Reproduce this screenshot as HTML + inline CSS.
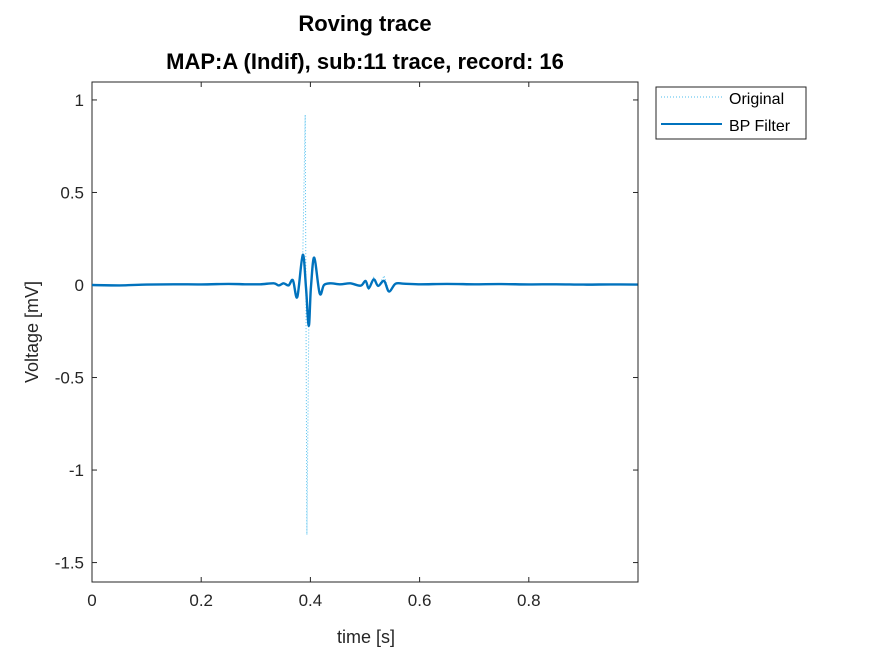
<!DOCTYPE html>
<html><head><meta charset="utf-8"><style>
body{margin:0;background:#fff;}
svg text{font-family:"Liberation Sans",sans-serif;}
</style></head><body>
<svg id="chart" width="875" height="656" xmlns="http://www.w3.org/2000/svg">
<rect width="875" height="656" fill="#fff"/>
<text x="365" y="31" font-size="22" font-weight="bold" text-anchor="middle" fill="#000">Roving trace</text>
<text x="365" y="69" font-size="22" font-weight="bold" text-anchor="middle" fill="#000">MAP:A (Indif), sub:11 trace, record: 16</text>
<rect x="92" y="82" width="546" height="500" fill="#fff" stroke="#262626" stroke-width="1"/>
<g id="axes"></g>
<g id="series"></g>
<text x="366" y="643" font-size="18" text-anchor="middle" fill="#262626">time [s]</text>
<text transform="translate(38,332) rotate(-90)" font-size="18" text-anchor="middle" fill="#262626">Voltage [mV]</text>
<g>
<rect x="656" y="87" width="150" height="52" fill="#fff" stroke="#262626" stroke-width="1"/>
<line x1="661" y1="97" x2="722" y2="97" stroke="#4DBEEE" stroke-width="1" stroke-dasharray="1,2"/>
<text x="729" y="104" font-size="16" fill="#000">Original</text>
<line x1="661" y1="124" x2="722" y2="124" stroke="#0072BD" stroke-width="2"/>
<text x="729" y="131" font-size="16" fill="#000">BP Filter</text>
</g>
</svg>
<script>
const xTicks=[0,0.2,0.4,0.6,0.8];
const xTickLabels=["0","0.2","0.4","0.6","0.8"];
const yTicks=[1,0.5,0,-0.5,-1,-1.5];
const yTickLabels=["1","0.5","0","-0.5","-1","-1.5"];
const filtTime=[0,0.05,0.1,0.15,0.2,0.25,0.28,0.308,0.333,0.342,0.351,0.36,0.368,0.376,0.386,0.392,0.397,0.401,0.407,0.417,0.425,0.437,0.455,0.473,0.492,0.501,0.507,0.516,0.524,0.535,0.544,0.556,0.571,0.602,0.65,0.7,0.75,0.8,0.85,0.9,0.95,0.999];
const filtValues=[0,-0.002,0.002,0.004,0.003,0.006,0.004,0.004,0.009,-0.002,0.009,-0.002,0.026,-0.065,0.163,-0.014,-0.221,-0.014,0.148,-0.046,0,0.009,0.004,0.009,-0.004,0.022,-0.017,0.031,-0.005,0.022,-0.035,0.007,0.007,0.004,0.006,0.004,0.005,0.003,0.004,0.002,0.003,0.002];
const origTime=[0,0.05,0.1,0.15,0.2,0.25,0.28,0.308,0.333,0.342,0.351,0.36,0.368,0.376,0.386,0.3905,0.3935,0.397,0.401,0.407,0.417,0.425,0.437,0.455,0.473,0.492,0.501,0.507,0.516,0.524,0.535,0.544,0.556,0.571,0.602,0.65,0.7,0.75,0.8,0.85,0.9,0.95,0.999];
const origValues=[0,-0.002,0.002,0.004,0.003,0.006,0.004,0.004,0.009,-0.002,0.009,-0.002,0.026,-0.065,0.163,0.92,-1.35,-0.221,-0.014,0.148,-0.046,0,0.009,0.004,0.009,-0.004,0.03,-0.03,0.04,-0.01,0.05,-0.035,0.007,0.007,0.004,0.006,0.004,0.005,0.003,0.004,0.002,0.003,0.002];
const X0=92,X1=638,Y0=582,Y1=82,xMin=0,xMax=1.0,yMin=-1.605,yMax=1.097;
function xs(t){return X0+(t-xMin)/(xMax-xMin)*(X1-X0);}
function ys(v){return Y0-(v-yMin)/(yMax-yMin)*(Y0-Y1);}
const NS="http://www.w3.org/2000/svg";
const axes=document.getElementById('axes');
xTicks.forEach((t,i)=>{
  const x=xs(t);
  const l1=document.createElementNS(NS,'line');
  l1.setAttribute('x1',x);l1.setAttribute('x2',x);l1.setAttribute('y1',Y0);l1.setAttribute('y2',Y0-5);l1.setAttribute('stroke','#262626');
  
  
  axes.appendChild(l1);
  const l2=document.createElementNS(NS,'line');
  l2.setAttribute('x1',x);l2.setAttribute('x2',x);l2.setAttribute('y1',Y1);l2.setAttribute('y2',Y1+5);l2.setAttribute('stroke','#262626');
  
  
  axes.appendChild(l2);
  const tx=document.createElementNS(NS,'text');
  tx.setAttribute('x',x);tx.setAttribute('y',Y0+24);tx.setAttribute('font-size','17');tx.setAttribute('text-anchor','middle');tx.setAttribute('fill','#262626');
  tx.textContent=xTickLabels[i];
  
  
  axes.appendChild(tx);
});
yTicks.forEach((v,i)=>{
  const y=ys(v);
  const l1=document.createElementNS(NS,'line');
  l1.setAttribute('x1',X0);l1.setAttribute('x2',X0+5);l1.setAttribute('y1',y);l1.setAttribute('y2',y);l1.setAttribute('stroke','#262626');
  
  
  axes.appendChild(l1);
  const l2=document.createElementNS(NS,'line');
  l2.setAttribute('x1',X1);l2.setAttribute('x2',X1-5);l2.setAttribute('y1',y);l2.setAttribute('y2',y);l2.setAttribute('stroke','#262626');
  
  
  axes.appendChild(l2);
  const tx=document.createElementNS(NS,'text');
  tx.setAttribute('x',X0-8);tx.setAttribute('y',y+6);tx.setAttribute('font-size','17');tx.setAttribute('text-anchor','end');tx.setAttribute('fill','#262626');
  tx.textContent=yTickLabels[i];
  
  
  axes.appendChild(tx);
});
const series=document.getElementById('series');
function pts(ts,vs){return ts.map((t,i)=>xs(t).toFixed(1)+','+ys(vs[i]).toFixed(1)).join(' ');}
function smoothPath(ts,vs){
  const P=ts.map((t,i)=>[xs(t),ys(vs[i])]);
  let d='M'+P[0][0].toFixed(1)+','+P[0][1].toFixed(1);
  for(let i=0;i<P.length-1;i++){
    const p0=P[i-1]||P[i],p1=P[i],p2=P[i+1],p3=P[i+2]||P[i+1];
    const c1=[p1[0]+(p2[0]-p0[0])/6,p1[1]+(p2[1]-p0[1])/6];
    const c2=[p2[0]-(p3[0]-p1[0])/6,p2[1]-(p3[1]-p1[1])/6];
    d+=' C'+c1[0].toFixed(1)+','+c1[1].toFixed(1)+' '+c2[0].toFixed(1)+','+c2[1].toFixed(1)+' '+p2[0].toFixed(1)+','+p2[1].toFixed(1);
  }
  return d;
}
const po=document.createElementNS(NS,'polyline');
po.setAttribute('points',pts(origTime,origValues));
po.setAttribute('fill','none');po.setAttribute('stroke','#4DBEEE');po.setAttribute('stroke-width','1');po.setAttribute('stroke-dasharray','1,2');


series.appendChild(po);
const pf=document.createElementNS(NS,'path');
pf.setAttribute('d',smoothPath(filtTime,filtValues));
pf.setAttribute('fill','none');pf.setAttribute('stroke','#0072BD');pf.setAttribute('stroke-width','2.4');pf.setAttribute('stroke-linejoin','round');


series.appendChild(pf);
</script>
</body></html>
